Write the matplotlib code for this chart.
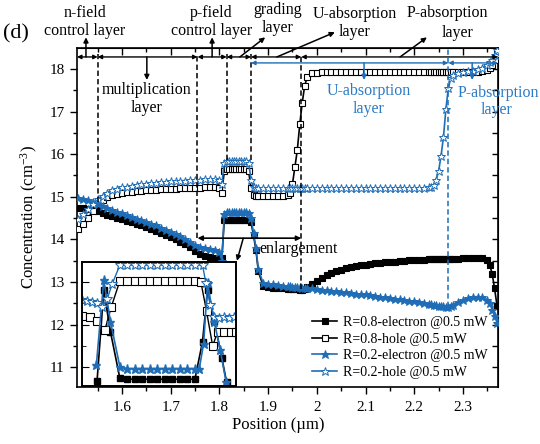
import matplotlib
matplotlib.use('Agg')
import matplotlib.pyplot as plt
from matplotlib.ticker import MultipleLocator, NullLocator

plt.rcParams['font.family'] = ['Liberation Serif', 'DejaVu Serif']
plt.rcParams['mathtext.fontset'] = 'custom'
plt.rcParams['mathtext.rm'] = 'Liberation Serif'
plt.rcParams['mathtext.it'] = 'Liberation Serif:italic'

# ---------------- main-plot data ----------------
position = [
    1.51, 1.52, 1.53, 1.54, 1.55, 1.56, 1.57, 1.58, 1.59, 1.60,
    1.61, 1.62, 1.63, 1.64, 1.65, 1.66, 1.67, 1.68, 1.69, 1.70,
    1.71, 1.72, 1.73, 1.74, 1.75, 1.76, 1.77, 1.78, 1.79, 1.80,
    1.805, 1.81, 1.815, 1.82, 1.825, 1.83, 1.835, 1.84, 1.845, 1.85,
    1.855, 1.86, 1.865, 1.87, 1.875, 1.88, 1.89, 1.90, 1.91, 1.92,
    1.93, 1.94, 1.945, 1.95, 1.955, 1.96, 1.965, 1.97, 1.975, 1.98,
    1.99, 2.00, 2.01, 2.02, 2.03, 2.04, 2.05, 2.06, 2.07, 2.08,
    2.09, 2.10, 2.11, 2.12, 2.13, 2.14, 2.15, 2.16, 2.17, 2.18,
    2.19, 2.20, 2.21, 2.22, 2.23, 2.235, 2.24, 2.245, 2.25, 2.255,
    2.26, 2.265, 2.27, 2.275, 2.28, 2.29, 2.30, 2.31, 2.32, 2.33,
    2.34, 2.35, 2.355, 2.36, 2.365, 2.37]

r08_electron = [
    14.74, 14.73, 14.72, 14.70, 14.66, 14.62, 14.58, 14.54, 14.50, 14.47,
    14.44, 14.41, 14.37, 14.33, 14.29, 14.25, 14.20, 14.16, 14.11, 14.06,
    14.01, 13.95, 13.89, 13.82, 13.74, 13.67, 13.62, 13.59, 13.57, 13.56,
    13.56, 14.45, 14.46, 14.46, 14.46, 14.46, 14.46, 14.46, 14.46, 14.46,
    14.46, 14.45, 14.40, 14.10, 13.75, 13.25, 12.90, 12.88, 12.87, 12.86,
    12.85, 12.84, 12.84, 12.83, 12.83, 12.83, 12.82, 12.82, 12.84, 12.88,
    12.95, 13.03, 13.10, 13.16, 13.21, 13.25, 13.29, 13.32, 13.35, 13.37,
    13.39, 13.41, 13.42, 13.44, 13.45, 13.46, 13.47, 13.48, 13.49, 13.50,
    13.51, 13.51, 13.52, 13.52, 13.53, 13.53, 13.53, 13.53, 13.54, 13.54,
    13.54, 13.54, 13.55, 13.55, 13.55, 13.55, 13.56, 13.56, 13.56, 13.56,
    13.56, 13.52, 13.40, 13.20, 12.85, 12.45]

r08_hole = [
    14.24, 14.36, 14.50, 14.66, 14.82, 14.93, 15.00, 15.04, 15.07, 15.09,
    15.11, 15.12, 15.13, 15.14, 15.15, 15.16, 15.17, 15.18, 15.18, 15.19,
    15.19, 15.20, 15.20, 15.21, 15.21, 15.21, 15.22, 15.22, 15.22, 15.20,
    15.10, 15.60, 15.65, 15.65, 15.65, 15.65, 15.65, 15.65, 15.65, 15.65,
    15.65, 15.60, 15.20, 15.05, 15.03, 15.02, 15.02, 15.02, 15.02, 15.02,
    15.02, 15.04, 15.10, 15.30, 15.70, 16.10, 16.70, 17.20, 17.60, 17.80,
    17.90, 17.91, 17.92, 17.92, 17.92, 17.92, 17.92, 17.92, 17.92, 17.92,
    17.92, 17.92, 17.92, 17.92, 17.92, 17.92, 17.92, 17.92, 17.92, 17.92,
    17.92, 17.92, 17.92, 17.92, 17.92, 17.92, 17.92, 17.92, 17.92, 17.92,
    17.92, 17.92, 17.92, 17.92, 17.92, 17.92, 17.92, 17.93, 17.93, 17.93,
    17.95, 17.98, 18.02, 18.08, 18.20, 18.35]

r02_electron = [
    14.97, 14.95, 14.92, 14.88, 14.83, 14.78, 14.73, 14.69, 14.65, 14.61,
    14.57, 14.53, 14.49, 14.45, 14.41, 14.37, 14.33, 14.28, 14.23, 14.18,
    14.13, 14.07, 14.02, 13.95, 13.88, 13.83, 13.80, 13.78, 13.76, 13.70,
    13.50, 14.60, 14.65, 14.65, 14.65, 14.65, 14.65, 14.65, 14.65, 14.65,
    14.65, 14.63, 14.50, 14.15, 13.80, 13.30, 12.97, 12.96, 12.95, 12.93,
    12.92, 12.90, 12.90, 12.89, 12.89, 12.88, 12.88, 12.87, 12.87, 12.86,
    12.85, 12.84, 12.82, 12.81, 12.80, 12.78, 12.77, 12.76, 12.74, 12.73,
    12.72, 12.71, 12.69, 12.68, 12.66, 12.64, 12.63, 12.61, 12.60, 12.58,
    12.56, 12.55, 12.53, 12.51, 12.49, 12.48, 12.47, 12.46, 12.45, 12.44,
    12.43, 12.42, 12.41, 12.43, 12.47, 12.53, 12.58, 12.62, 12.65, 12.66,
    12.64, 12.58, 12.50, 12.35, 12.20, 12.05]

r02_hole = [
    14.48, 14.60, 14.72, 14.84, 14.94, 15.03, 15.10, 15.15, 15.19, 15.22,
    15.24, 15.26, 15.28, 15.29, 15.31, 15.32, 15.33, 15.34, 15.35, 15.36,
    15.37, 15.38, 15.38, 15.39, 15.40, 15.40, 15.41, 15.41, 15.42, 15.40,
    15.30, 15.80, 15.85, 15.85, 15.85, 15.85, 15.85, 15.85, 15.85, 15.85,
    15.85, 15.80, 15.40, 15.24, 15.21, 15.21, 15.21, 15.21, 15.21, 15.21,
    15.21, 15.21, 15.21, 15.21, 15.21, 15.21, 15.21, 15.21, 15.21, 15.21,
    15.21, 15.21, 15.21, 15.21, 15.21, 15.21, 15.21, 15.21, 15.21, 15.21,
    15.21, 15.21, 15.21, 15.21, 15.21, 15.21, 15.21, 15.21, 15.21, 15.21,
    15.21, 15.21, 15.21, 15.21, 15.22, 15.23, 15.27, 15.40, 15.60, 15.95,
    16.40, 17.05, 17.55, 17.78, 17.86, 17.90, 17.92, 17.94, 17.96, 17.99,
    18.03, 18.10, 18.15, 18.22, 18.32, 18.45]

# ---------------- inset (enlargement) data ----------------
inset_pos_e08 = [1.8083, 1.8120, 1.8157, 1.8209, 1.8249, 1.8290, 1.8333, 1.8375,
                 1.8416, 1.8456, 1.8499, 1.8540, 1.8582, 1.8623, 1.8665, 1.8693,
                 1.8730, 1.8772, 1.8798]
inset_e08 = [10.68, 12.81, 11.83, 10.74, 10.72, 10.72, 10.72, 10.72,
             10.72, 10.72, 10.72, 10.72, 10.72, 10.72, 11.60, 12.81,
             12.09, 11.21, 10.65]

inset_pos_h08 = [1.8000, 1.8043, 1.8083, 1.8126, 1.8161, 1.8209, 1.8249, 1.8290,
                 1.8333, 1.8375, 1.8416, 1.8456, 1.8499, 1.8540, 1.8582, 1.8623,
                 1.8656, 1.8687, 1.8721, 1.8748, 1.8785, 1.8822, 1.8850]
inset_h08 = [12.21, 12.19, 12.09, 11.87, 12.41, 13.03, 13.03, 13.03,
             13.03, 13.03, 13.03, 13.03, 13.03, 13.03, 13.03, 13.03,
             13.00, 12.32, 11.50, 11.83, 11.83, 11.83, 11.83]

inset_pos_e02 = [1.8079, 1.8120, 1.8157, 1.8209, 1.8249, 1.8290, 1.8333, 1.8375,
                 1.8416, 1.8456, 1.8499, 1.8540, 1.8582, 1.8623, 1.8647, 1.8671,
                 1.8693, 1.8730, 1.8763, 1.8795]
inset_e02 = [11.05, 13.05, 12.07, 11.01, 10.97, 10.97, 10.97, 10.97,
             10.97, 10.97, 10.97, 10.97, 10.97, 10.97, 10.97, 11.55,
             12.97, 12.07, 11.40, 10.66]

inset_pos_h02 = [1.8000, 1.8028, 1.8055, 1.8083, 1.8111, 1.8139, 1.8166, 1.8209,
                 1.8249, 1.8290, 1.8333, 1.8375, 1.8416, 1.8456, 1.8499, 1.8540,
                 1.8582, 1.8623, 1.8665, 1.8684, 1.8708, 1.8730, 1.8758, 1.8785,
                 1.8813, 1.8841]
inset_h02 = [12.59, 12.56, 12.54, 12.50, 12.41, 12.60, 12.95, 13.40,
             13.40, 13.40, 13.40, 13.40, 13.40, 13.40, 13.40, 13.40,
             13.40, 13.40, 13.40, 12.97, 12.46, 12.19, 12.15, 12.17,
             12.15, 12.17]

legend_labels = ['R=0.8-electron @0.5 mW', 'R=0.8-hole @0.5 mW',
                 'R=0.2-electron @0.5 mW', 'R=0.2-hole @0.5 mW']

BLUE = '#1f6db6'
TBLUE = '#2b7bc4'

fig = plt.figure(figsize=(5.4, 4.44), dpi=100)
ax = fig.add_axes([0.1426, 0.1284, 0.7796, 0.7635])

ax.plot(position, r08_electron, color='k', lw=1.2, marker='s', ms=4.8,
        mfc='k', mec='k', mew=0.8, label=legend_labels[0], zorder=3)
ax.plot(position, r08_hole, color='k', lw=1.2, marker='s', ms=4.8,
        mfc='white', mec='k', mew=0.8, label=legend_labels[1], zorder=3)
ax.plot(position, r02_electron, color=BLUE, lw=1.2, marker='*', ms=6.3,
        mfc=BLUE, mec=BLUE, mew=0.7, label=legend_labels[2], zorder=4)
ax.plot(position, r02_hole, color=BLUE, lw=1.2, marker='*', ms=6.3,
        mfc='white', mec=BLUE, mew=0.7, label=legend_labels[3], zorder=4)

ax.set_xlim(1.5076, 2.372)
ax.set_ylim(10.54, 18.49)
ax.xaxis.set_major_locator(MultipleLocator(0.1))
ax.xaxis.set_minor_locator(MultipleLocator(0.05))
ax.yaxis.set_major_locator(MultipleLocator(1))
ax.yaxis.set_minor_locator(MultipleLocator(0.5))
ax.set_xticks([1.6, 1.7, 1.8, 1.9, 2.0, 2.1, 2.2, 2.3])
ax.set_xticklabels(['1.6', '1.7', '1.8', '1.9', '2', '2.1', '2.2', '2.3'])
ax.tick_params(which='both', direction='out', width=1.0, labelsize=11)
ax.tick_params(which='major', length=5)
ax.tick_params(which='minor', length=3)
ax.tick_params(axis='y', pad=4)
ax.tick_params(axis='x', pad=5)
for s in ax.spines.values():
    s.set_linewidth(1.2)

secx = ax.secondary_xaxis('top')
secx.xaxis.set_major_locator(MultipleLocator(0.1))
secx.xaxis.set_minor_locator(MultipleLocator(0.05))
secx.tick_params(which='both', direction='in', labeltop=False, width=1.0)
secx.tick_params(which='major', length=5)
secx.tick_params(which='minor', length=3)
secy = ax.secondary_yaxis('right')
secy.yaxis.set_major_locator(MultipleLocator(1))
secy.yaxis.set_minor_locator(MultipleLocator(0.5))
secy.tick_params(which='both', direction='in', labelright=False, width=1.0, length=4)

ax.set_xlabel('Position (\u00b5m)', fontsize=12)
ax.set_ylabel('Concentration (cm$^{-3}$)', fontsize=12)
ax.xaxis.set_label_coords(0.477, -0.088)
ax.yaxis.set_label_coords(-0.088, 0.5)

leg = ax.legend(loc='lower right', bbox_to_anchor=(0.995, 0.0), frameon=False,
                fontsize=10, handlelength=1.8, handletextpad=0.4,
                labelspacing=0.25, borderaxespad=0.2, numpoints=1)

# ---------------- layer markers ----------------
y_black = 18.28
y_blue = 18.14
bounds_black = [1.5076, 1.55, 1.755, 1.815, 1.865, 1.968, 2.372]
for a, b in zip(bounds_black[:-1], bounds_black[1:]):
    ax.annotate('', xy=(b, y_black), xytext=(a, y_black),
                arrowprops=dict(arrowstyle='<|-|>', color='k', lw=1.0,
                                mutation_scale=6, shrinkA=0, shrinkB=0),
                annotation_clip=False, zorder=6)
bounds_blue = [1.865, 2.27, 2.372]
for a, b in zip(bounds_blue[:-1], bounds_blue[1:]):
    ax.annotate('', xy=(b, y_blue), xytext=(a, y_blue),
                arrowprops=dict(arrowstyle='<|-|>', color=BLUE, lw=1.0,
                                mutation_scale=6, shrinkA=0, shrinkB=0),
                annotation_clip=False, zorder=6)

dash = (0, (3.5, 2))
for xv, ybot in [(1.55, 14.87), (1.755, 14.03), (1.815, 15.86),
                 (1.865, 15.86), (1.968, 12.84)]:
    ax.plot([xv, xv], [ybot, 18.34], color='k', lw=1.1, ls=dash, zorder=5)
ax.plot([2.27, 2.27], [12.41, 18.49], color=BLUE, lw=1.1, ls=dash, zorder=5)

ap_k = dict(arrowstyle='-|>', color='k', lw=1.1, mutation_scale=7,
            shrinkA=0, shrinkB=0)
ap_b = dict(arrowstyle='-|>', color=BLUE, lw=1.1, mutation_scale=7,
            shrinkA=0, shrinkB=0)
for (x0, y0, x1, y1) in [(1.526, y_black, 1.526, 18.74),
                         (1.785, y_black, 1.785, 18.74),
                         (1.842, y_black, 1.894, 18.74),
                         (1.918, y_black, 2.037, 18.86),
                         (2.171, y_black, 2.226, 18.74),
                         (1.651, y_black, 1.651, 17.74)]:
    ax.annotate('', xy=(x1, y1), xytext=(x0, y0), arrowprops=ap_k,
                annotation_clip=False, zorder=6)
for (x0, y0, x1, y1) in [(2.097, y_blue, 2.097, 17.74),
                         (2.319, y_blue, 2.319, 17.74)]:
    ax.annotate('', xy=(x1, y1), xytext=(x0, y0), arrowprops=ap_b,
                annotation_clip=False, zorder=6)

tk = dict(fontsize=11.5, ha='center', va='center', clip_on=False, linespacing=1.15)
ax.text(1.524, 19.10, 'n-field\ncontrol layer', **tk)
ax.text(1.783, 19.10, 'p-field\ncontrol layer', **tk)
ax.text(1.920, 19.17, 'grading\nlayer', **tk)
ax.text(2.078, 19.08, 'U-absorption\nlayer', **tk)
ax.text(2.269, 19.31, 'P-absorption', **tk)
ax.text(2.290, 18.85, 'layer', **tk)
ax.text(1.651, 17.30, 'multiplication\nlayer', **tk)
ax.text(2.107, 17.27, 'U-absorption\nlayer', color=TBLUE, **tk)
ax.text(2.372, 17.44, 'P-absorption', color=TBLUE, **tk)
ax.text(2.370, 17.04, 'layer', color=TBLUE, **tk)

# enlargement arrow
ax.annotate('', xy=(1.968, 14.03), xytext=(1.755, 14.03),
            arrowprops=dict(arrowstyle='<|-|>', color='k', lw=1.2,
                            mutation_scale=7, shrinkA=0, shrinkB=0), zorder=6)
ax.annotate('', xy=(1.836, 13.50), xytext=(1.849, 14.03), arrowprops=ap_k, zorder=6)
ax.text(1.883, 13.77, 'enlargement', fontsize=11.5, ha='left', va='center')

fig.text(0.006, 0.923, '(d)', fontsize=16, ha='left', va='center')

# ---------------- inset ----------------
axi = fig.add_axes([0.1519, 0.1306, 0.2852, 0.2793])
axi.plot(inset_pos_e08, inset_e08, color='k', lw=1.2, marker='s', ms=5,
         mfc='k', mec='k')
axi.plot(inset_pos_h08, inset_h08, color='k', lw=1.0, marker='s', ms=5.5,
         mfc='white', mec='k', mew=0.8)
axi.plot(inset_pos_e02, inset_e02, color=BLUE, lw=1.2, marker='*', ms=6.5,
         mfc=BLUE, mec=BLUE)
axi.plot(inset_pos_h02, inset_h02, color=BLUE, lw=1.0, marker='*', ms=7,
         mfc='white', mec=BLUE, mew=0.8)
axi.set_xlim(1.80, 1.885)
axi.set_ylim(10.56, 13.47)
axi.xaxis.set_major_locator(NullLocator())
axi.xaxis.set_minor_locator(NullLocator())
axi.yaxis.set_major_locator(MultipleLocator(1))
axi.yaxis.set_minor_locator(MultipleLocator(0.5))
axi.tick_params(axis='y', which='both', direction='in', labelleft=False)
axi.tick_params(axis='y', which='major', length=5)
axi.tick_params(axis='y', which='minor', length=3)
for s in axi.spines.values():
    s.set_linewidth(1.4)

fig.savefig('out.png', dpi=100)
